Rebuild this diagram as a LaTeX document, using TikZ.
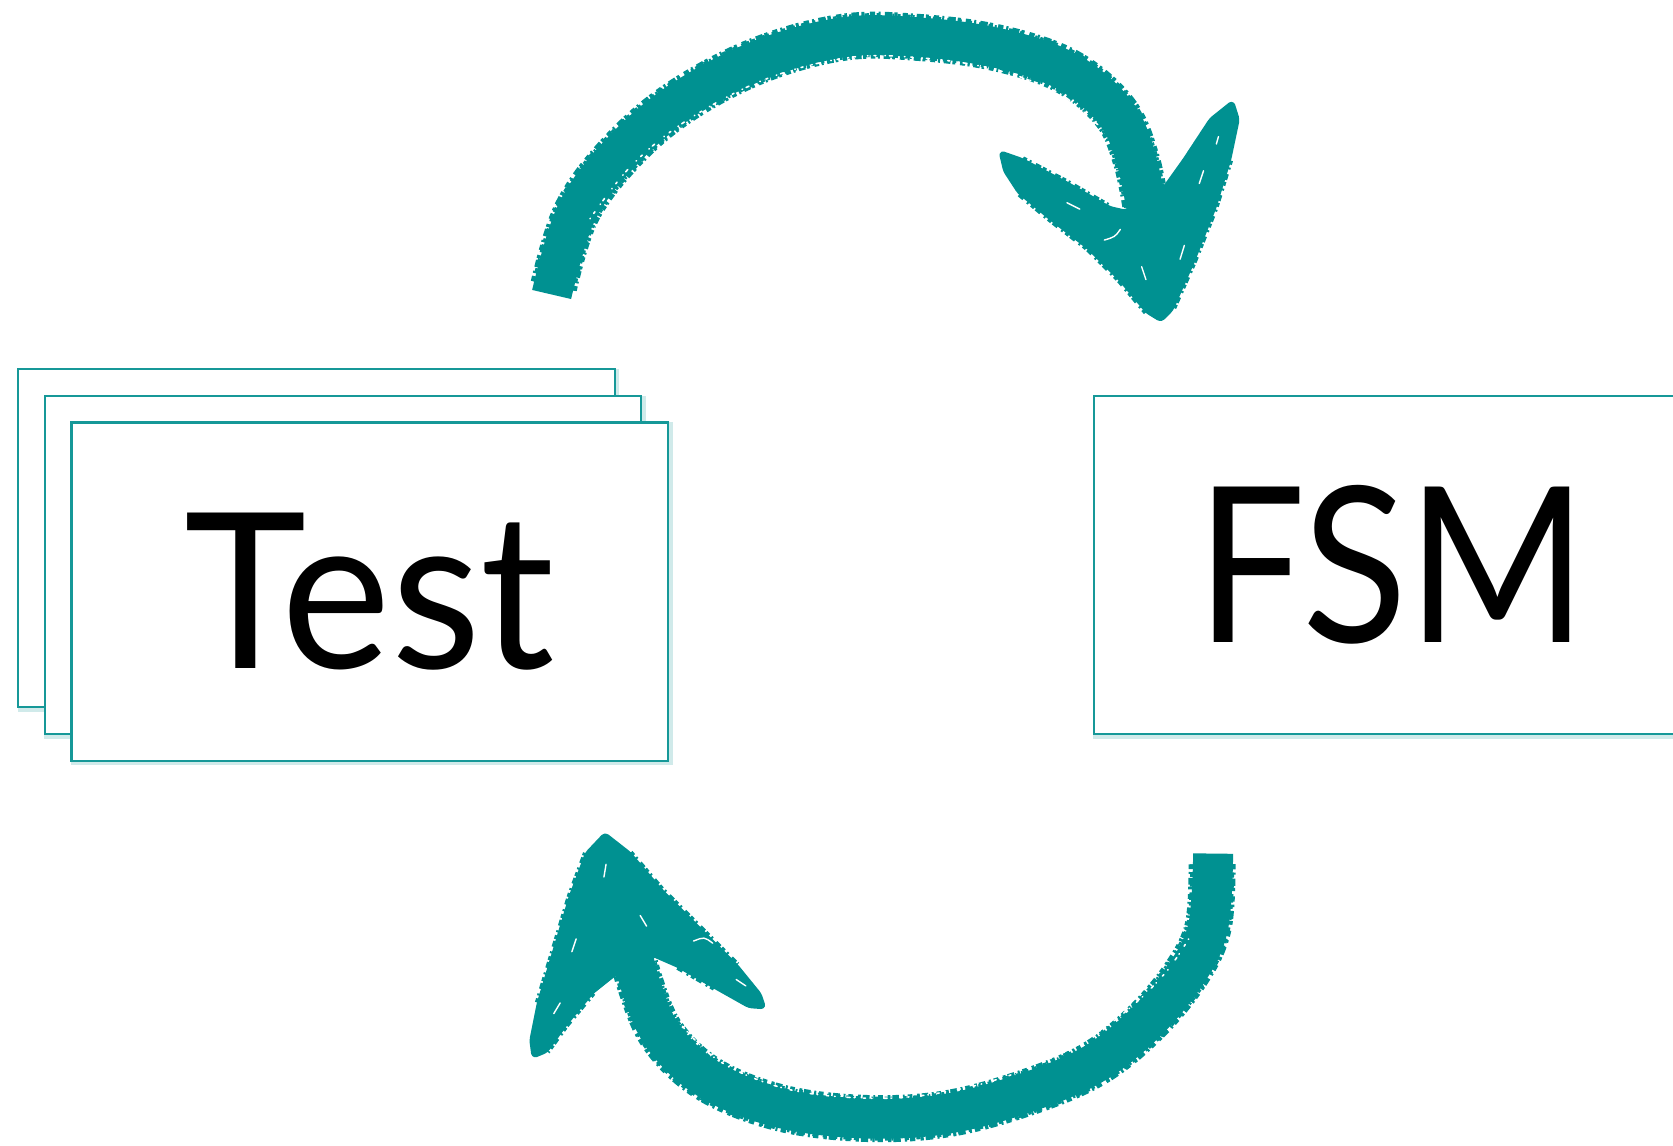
\documentclass[tikz,border=0pt]{standalone}
\usepackage{fontspec}
\setmainfont{Lato}
\definecolor{arrowteal}{RGB}{0,145,145}
\definecolor{boxteal}{RGB}{22,152,152}
\begin{document}
\begin{tikzpicture}[x=1.067pt, y=-1.067pt,
  card/.style={draw=boxteal, line width=2.2pt, fill=white, minimum width=596.5pt,
    minimum height=338.2pt, inner sep=0pt, font=\fontsize{217}{217}\selectfont},
  cardshadow/.style={draw=boxteal!20, line width=5pt, minimum width=596.5pt,
    minimum height=338.2pt, inner sep=0pt},
  brush/.style={draw=arrowteal, line width=40pt, line cap=butt, line join=round},
  roughA/.style={draw=arrowteal, line width=47pt, line cap=butt,
    dash pattern=on 5pt off 3pt on 2pt off 4pt on 7pt off 2pt on 3pt off 5pt},
  roughB/.style={draw=arrowteal, line width=44pt, line cap=butt,
    dash pattern=on 3pt off 6pt on 4pt off 2pt on 2pt off 3pt},
  speck/.style={draw=white, line width=1.6pt, line cap=round,
    dash pattern=on 0.5pt off 6pt on 2pt off 9pt on 0.5pt off 4pt on 3pt off 12pt},
  head/.style={fill=arrowteal, draw=arrowteal, line width=4pt, line join=round,
    rounded corners=3pt},
  headrough/.style={draw=arrowteal, line width=8pt, line cap=butt, rounded corners=3pt,
    dash pattern=on 4pt off 3pt on 2pt off 5pt on 6pt off 2pt},
  flick/.style={draw=white, line width=1.4pt, line cap=round},
]
\useasboundingbox (0,0) rectangle (1568,1074);
\clip (0,0) rectangle (1568,1074);

% shadows
\node[cardshadow] at (298.5,506.5) {};
\node[cardshadow] at (323.5,531.5) {};
\node[cardshadow] at (348.5,556.5) {};
\node[cardshadow] at (1306.5,531.5) {};

% stacked test cards
\node[card] (back) at (296.5,504.5) {};
\node[card] (mid) at (321.5,529.5) {};
\node[card] (test) at (346.5,554.5) {\scalebox{0.955}[1]{Test}};
\node[card] (fsm) at (1304.5,529.5) {\scalebox{0.893}[1]{FSM}};

% top arrow
\draw[brush] plot[smooth, tension=0.6] coordinates {(517,276) (540,200) (580,145) (635,97) (710,57) (790,35) (860,35) (935,45) (1000,67) (1045,105) (1065,150) (1078,215)};
\draw[roughA] plot[smooth, tension=0.6] coordinates {(519,268) (540,200) (580,145) (635,97) (710,57) (790,35) (860,35) (935,45) (1000,67) (1045,105) (1065,150) (1076,205)};
\draw[roughB] plot[smooth, tension=0.6] coordinates {(519,268) (540,200) (580,145) (635,97) (710,57) (790,35) (860,35) (935,45) (1000,67) (1045,105) (1065,150) (1076,205)};
\coordinate (tipA) at (1088,300);
\draw[head] (938,143) -- (958,150) -- (1000,172) -- (1040,195) -- (1062,200) -- (1085,185) -- (1110,150) -- (1135,112) -- (1155,96) -- (1160,112) -- (1152,150) -- (1138,195) -- (1118,245) -- (1098,290) -- (tipA) -- (1075,292) -- (1050,262) -- (1020,232) -- (985,205) -- (955,180) -- (942,160) -- cycle;
\draw[headrough] (958,150) -- (1000,172) -- (1040,195);
\draw[headrough] (1152,150) -- (1138,195) -- (1118,245) -- (1098,290);
\draw[headrough] (1075,292) -- (1050,262) -- (1020,232) -- (985,205) -- (955,180);
\draw[speck] plot[smooth, tension=0.6] coordinates {(553,205) (592,155) (645,112) (718,74) (795,54) (860,54) (928,64) (990,86) (1030,118)};
\draw[flick] (1000,190) -- (1012,196);
\draw[flick] (1035,225) .. controls (1045,222) .. (1050,215);
\draw[flick] (1128,160) -- (1124,172);
\draw[flick] (1110,230) -- (1106,243);
\draw[flick] (1070,250) -- (1074,262);
\draw[flick] (1140,135) -- (1142,128);

% bottom arrow
\draw[brush] plot[smooth, tension=0.6] coordinates {(1137,800) (1132,870) (1110,915) (1070,962) (1020,1000) (950,1028) (880,1045) (805,1048) (730,1038) (665,1012) (622,972) (600,922) (585,860)};
\draw[roughA] plot[smooth, tension=0.6] coordinates {(1136,810) (1132,870) (1110,915) (1070,962) (1020,1000) (950,1028) (880,1045) (805,1048) (730,1038) (665,1012) (622,972) (600,922) (587,870)};
\draw[roughB] plot[smooth, tension=0.6] coordinates {(1136,810) (1132,870) (1110,915) (1070,962) (1020,1000) (950,1028) (880,1045) (805,1048) (730,1038) (665,1012) (622,972) (600,922) (587,870)};
\coordinate (tipB) at (567,782);
\draw[head] (tipB) -- (590,800) -- (620,835) -- (655,870) -- (690,905) -- (712,932) -- (716,944) -- (702,943) -- (670,925) -- (635,905) -- (612,895) -- (595,910) -- (580,910) -- (555,930) -- (530,960) -- (512,985) -- (500,990) -- (498,975) -- (505,940) -- (520,890) -- (535,840) -- (550,800) -- cycle;
\draw[headrough] (590,800) -- (620,835) -- (655,870) -- (690,905);
\draw[headrough] (670,925) -- (635,905);
\draw[headrough] (555,930) -- (530,960) -- (512,985);
\draw[headrough] (505,940) -- (520,890) -- (535,840) -- (550,800);
\draw[speck] plot[smooth, tension=0.6] coordinates {(1114,880) (1092,912) (1055,948) (1005,982) (940,1010) (870,1026) (805,1029) (735,1020) (675,995) (638,960)};
\draw[flick] (568,810) -- (566,822);
\draw[flick] (540,880) -- (536,892);
\draw[flick] (650,882) .. controls (660,878) .. (668,884);
\draw[flick] (525,940) -- (519,950);
\draw[flick] (600,858) -- (606,868);
\draw[flick] (690,918) -- (699,924);
\end{tikzpicture}
\end{document}
